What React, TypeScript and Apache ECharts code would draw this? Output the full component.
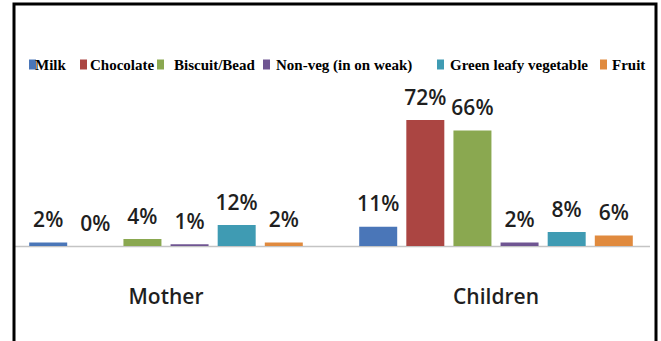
import React, { useEffect, useRef } from "react";
import * as echarts from "echarts";

const categories = ["Mother", "Children"];
const seriesNames = ["Milk", "Chocolate", "Biscuit/Bead", "Non-veg (in on weak)", "Green leafy vegetable", "Fruit"];
const milk = [2, 11];
const chocolate = [0, 72];
const biscuit = [4, 66];
const nonVeg = [1, 2];
const greenLeafy = [12, 8];
const fruit = [2, 6];

const colors = ["#4a76b8", "#ab4542", "#8aa850", "#6f5592", "#3f9bb3", "#e08a3e"];
const legendIconLeft = [29, 80, 157, 263, 437, 600];
const legendTextLeft = [35, 90, 174, 276, 450, 612];

export default function App() {
  const ref = useRef<HTMLDivElement>(null);
  useEffect(() => {
    if (!ref.current) return;
    const chart = echarts.init(ref.current, null, { renderer: "svg" });
    const values = [milk, chocolate, biscuit, nonVeg, greenLeafy, fruit];
    const series = seriesNames.map((name, i) => ({
      name,
      type: "bar",
      data: values[i],
      barWidth: 38,
      barGap: "24%",
      itemStyle: { color: colors[i] },
      label: {
        show: true,
        position: "top",
        distance: 13,
        formatter: "{c}%",
        fontFamily: "Open Sans",
        fontWeight: 600,
        fontSize: 21,
        color: "#1f1f1f",
      },
    }));
    const legends = seriesNames.map((name, i) => ({
      data: [name],
      left: legendIconLeft[i],
      top: 57,
      padding: 0,
      icon: "rect",
      itemWidth: 7,
      itemHeight: 10,
      textStyle: {
        fontFamily: "Liberation Serif",
        fontWeight: "bold",
        fontSize: 15,
        color: "#000",
        padding: [0, 0, 0, legendTextLeft[i] - legendIconLeft[i] - 7 - 5],
      },
    }));
    chart.setOption({
      animation: false,
      backgroundColor: "#ffffff",
      legend: legends,
      grid: { left: 1, width: 664, top: 71, height: 175, containLabel: false },
      xAxis: {
        type: "category",
        data: categories,
        axisLine: { show: false },
        axisTick: { show: false },
        axisLabel: {
          margin: 39,
          fontFamily: "Open Sans",
          fontWeight: 600,
          fontSize: 21,
          color: "#1f1f1f",
        },
      },
      yAxis: { type: "value", min: 0, max: 100, show: false, splitLine: { show: false } },
      series,
      graphic: [
        {
          type: "line",
          shape: { x1: 14, y1: 246.5, x2: 650, y2: 246.5 },
          style: { stroke: "#c4c4c4", lineWidth: 1.5 },
          z: 0,
        },
        {
          type: "rect",
          shape: { x: 14, y: 4, width: 642, height: 360 },
          style: { fill: "none", stroke: "#000", lineWidth: 3 },
          z: 10,
        },
      ],
    });
    return () => chart.dispose();
  }, []);
  return (
    <div
      ref={ref}
      style={{ position: "fixed", left: 0, top: 0, width: 661, height: 341 }}
    />
  );
}
